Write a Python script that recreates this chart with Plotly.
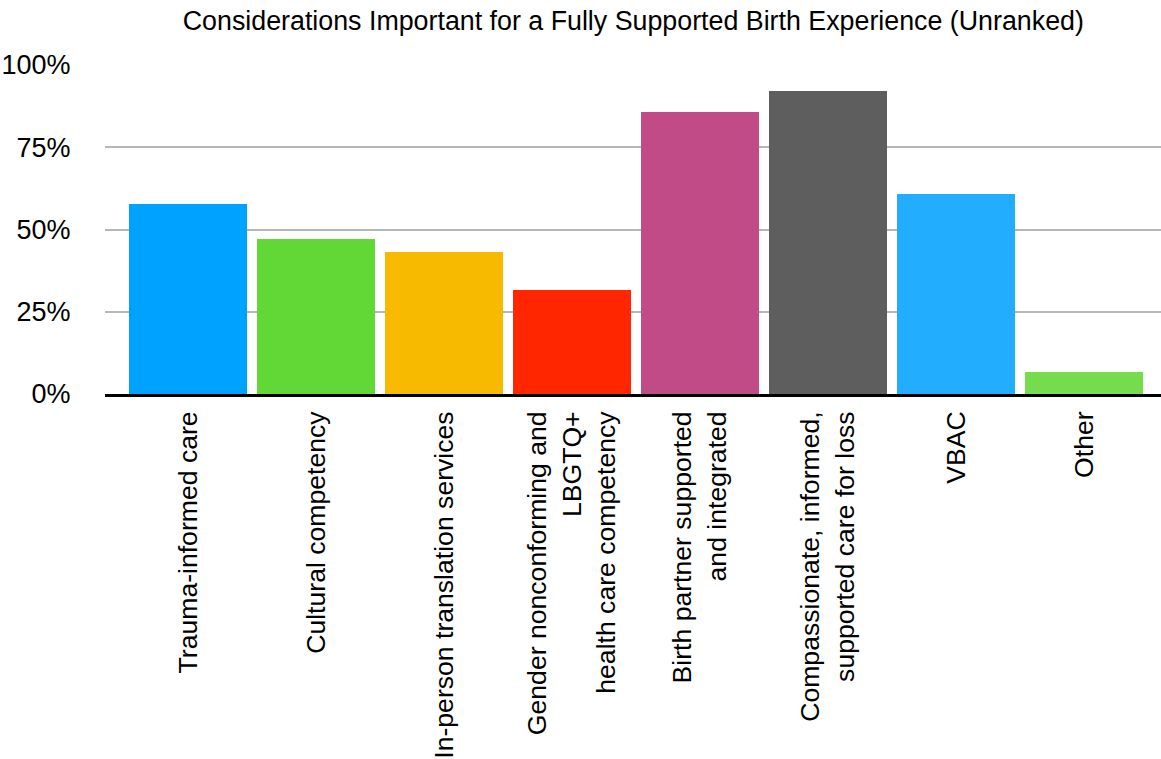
import plotly.graph_objects as go

categories = [
    "Trauma-informed care",
    "Cultural competency",
    "In-person translation services",
    "Gender nonconforming and<br>LBGTQ+<br>health care competency",
    "Birth partner supported<br>and integrated",
    "Compassionate, informed,<br>supported care for loss",
    "VBAC",
    "Other",
]
values = [57.7, 47.1, 43.1, 31.6, 85.8, 92.2, 60.7, 6.8]
colors = ["#00a2ff", "#61d836", "#f8ba00", "#ff2600", "#c04b86", "#5e5e5e", "#22adff", "#74dc4d"]
tick_vals = [0, 25, 50, 75, 100]
tick_text = ["0%", "25%", "50%", "75%", "100%"]

FONT = "Liberation Sans, Arial, Helvetica, sans-serif"

fig = go.Figure(
    go.Bar(
        x=list(range(len(categories))),
        y=values,
        marker=dict(color=colors, line=dict(width=0)),
        width=0.922,
        hoverinfo="skip",
    )
)

fig.update_layout(
    width=1161,
    height=759,
    margin=dict(l=105, r=0, t=65, b=363),
    paper_bgcolor="white",
    plot_bgcolor="white",
    showlegend=False,
    font=dict(family=FONT, size=26, color="black"),
    title=dict(
        text="Considerations Important for a Fully Supported Birth Experience (Unranked)",
        x=0.5455,
        xanchor="center",
        y=0.973,
        yanchor="middle",
        font=dict(family=FONT, size=26.8, color="black"),
    ),
    bargap=0,
)

fig.update_xaxes(
    range=[-0.648, 7.60],
    tickmode="array",
    tickvals=list(range(len(categories))),
    ticktext=categories,
    tickangle=-90,
    ticks="outside",
    ticklen=4,
    tickcolor="rgba(0,0,0,0)",
    showgrid=False,
    showline=True,
    linecolor="black",
    linewidth=2.5,
    zeroline=False,
    tickfont=dict(family=FONT, size=26.6, color="black"),
    fixedrange=True,
)

fig.update_yaxes(
    range=[0, 100],
    tickmode="array",
    tickvals=tick_vals,
    ticktext=tick_text,
    ticks="outside",
    ticklen=28,
    tickcolor="rgba(0,0,0,0)",
    showgrid=True,
    gridcolor="#b7b7b7",
    gridwidth=2.2,
    showline=False,
    zeroline=False,
    tickfont=dict(family=FONT, size=27, color="black"),
    fixedrange=True,
)

fig.write_html("out.html")
